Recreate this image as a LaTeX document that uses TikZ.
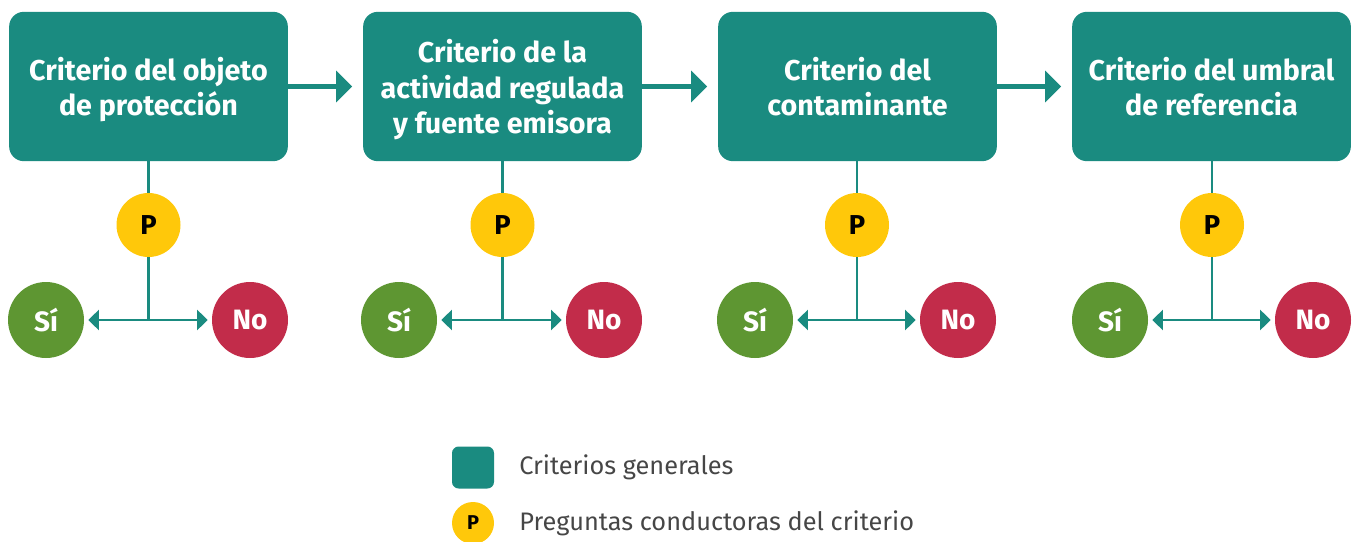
\documentclass[tikz,border=0pt]{standalone}
\usepackage{fontspec}
\setmainfont{Fira Sans}
\usetikzlibrary{arrows.meta}

\definecolor{critTeal}{RGB}{26,139,128}
\definecolor{pregYellow}{RGB}{255,200,10}
\definecolor{siGreen}{RGB}{94,150,50}
\definecolor{noRed}{RGB}{194,44,74}
\definecolor{legGray}{RGB}{70,70,70}

\begin{document}
\begin{tikzpicture}[x=0.75pt,y=0.75pt,yscale=-1,xscale=1,
  crit/.style={fill=critTeal, rounded corners=11pt, minimum width=209pt, minimum height=112pt,
    inner sep=0pt, text depth=0pt, text=white, align=center, font=\bfseries\fontsize{21.5}{26.5}\selectfont},
  preg/.style={circle, fill=pregYellow, minimum size=48pt, inner sep=0pt,
    font=\bfseries\fontsize{20.5}{24}\selectfont},
  resSi/.style={circle, fill=siGreen, minimum size=57pt, inner sep=0pt, text=white,
    font=\bfseries\fontsize{21}{24}\selectfont},
  resNo/.style={circle, fill=noRed, minimum size=57pt, inner sep=0pt, text=white,
    font=\bfseries\fontsize{21}{24}\selectfont},
  flecha/.style={critTeal, line width=3.4pt, -{Triangle[length=12pt,width=23pt]}, shorten >=8pt},
  rama/.style={critTeal, line width=2pt},
  ramaflecha/.style={rama, -{Triangle[length=8pt,width=15pt]}, shorten >=3pt},
  leyenda/.style={anchor=west, inner sep=0pt, text=legGray, font=\fontsize{19}{23}\selectfont}
]
\useasboundingbox (0,0) rectangle (1356,542);

%Criterios generales
\node[crit] (c1) at (148.5,86.5) {Criterio del objeto\\de protección};
\node[crit] (c2) at (502.5,86.5) {Criterio de la\\actividad regulada\\y fuente emisora};
\node[crit] (c3) at (857.5,86.5) {Criterio del\\contaminante};
\node[crit] (c4) at (1211.5,86.5) {Criterio del umbral\\de referencia};

\draw[flecha] (c1) -- (c2);
\draw[flecha] (c2) -- (c3);
\draw[flecha] (c3) -- (c4);

%Preguntas y respuestas, criterio 1
\node[preg] (p1) at (148.5,225) {P};
\coordinate (j1) at (148.5,320);
\node[resSi] (s1) at (46,320) {Sí};
\node[resNo] (n1) at (250,320) {No};
\draw[rama] (c1) -- (p1) -- (j1);
\draw[ramaflecha] (j1) -- (s1);
\draw[ramaflecha] (j1) -- (n1);

%Preguntas y respuestas, criterio 2
\node[preg] (p2) at (502.5,225) {P};
\coordinate (j2) at (502.5,320);
\node[resSi] (s2) at (399,320) {Sí};
\node[resNo] (n2) at (604,320) {No};
\draw[rama] (c2) -- (p2) -- (j2);
\draw[ramaflecha] (j2) -- (s2);
\draw[ramaflecha] (j2) -- (n2);

%Preguntas y respuestas, criterio 3
\node[preg] (p3) at (857,225) {P};
\coordinate (j3) at (857,320);
\node[resSi] (s3) at (755,320) {Sí};
\node[resNo] (n3) at (958,320) {No};
\draw[rama] (c3.south -| p3) -- (p3) -- (j3);
\draw[ramaflecha] (j3) -- (s3);
\draw[ramaflecha] (j3) -- (n3);

%Preguntas y respuestas, criterio 4
\node[preg] (p4) at (1212,225) {P};
\coordinate (j4) at (1212,320);
\node[resSi] (s4) at (1110,320) {Sí};
\node[resNo] (n4) at (1313,320) {No};
\draw[rama] (c4.south -| p4) -- (p4) -- (j4);
\draw[ramaflecha] (j4) -- (s4);
\draw[ramaflecha] (j4) -- (n4);

%Leyenda
\node[fill=critTeal, rounded corners=5pt, minimum size=31.5pt, inner sep=0pt] (lc) at (473,467.5) {};
\node[leyenda] (lt1) at (519,467.5) {Criterios generales};
\node[preg, minimum size=31.5pt, font=\bfseries\fontsize{15}{17}\selectfont] (lp) at (473,523) {P};
\node[leyenda] (lt2) at (519,523) {Preguntas conductoras del criterio};

\end{tikzpicture}
\end{document}
